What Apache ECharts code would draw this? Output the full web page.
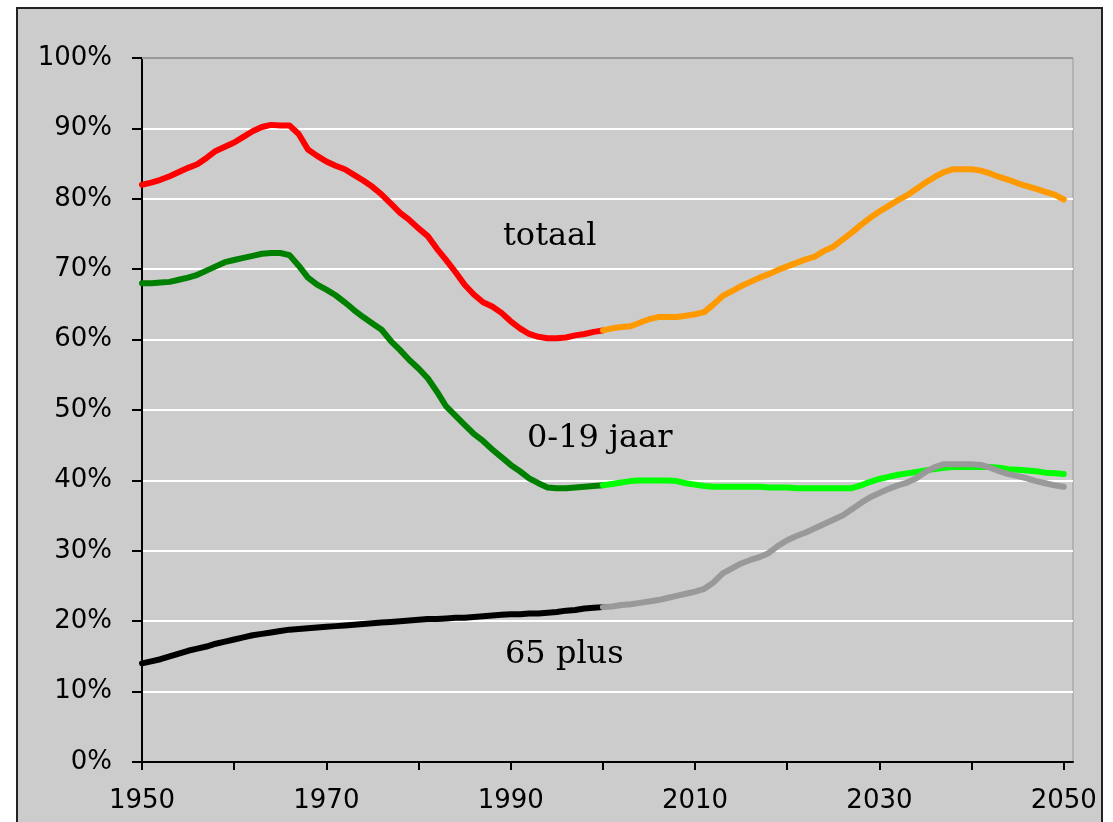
<!DOCTYPE html>
<html>
<head>
<meta charset="utf-8">
<title>Afhankelijkheidsratio 1950-2050</title>
<script src="https://cdn.jsdelivr.net/npm/echarts@6/dist/echarts.min.js"></script>
<style>
  html, body { margin: 0; padding: 0; background: #fff; }
  #chart { width: 1113px; height: 822px; }
</style>
</head>
<body>
<div id="chart"></div>
<script>
// jaren voor waarneming (1950-2000) en prognose (2000-2050)
var yearsPast = [];
for (var y = 1950; y <= 2000; y++) yearsPast.push(y);
var yearsFuture = [];
for (var y2 = 2000; y2 <= 2050; y2++) yearsFuture.push(y2);

// totaal, 1950-2000 (rood)
var totaalPast = [82.0, 82.3, 82.7, 83.2, 83.8, 84.4, 84.9, 85.8, 86.8, 87.4,
  88.0, 88.8, 89.6, 90.2, 90.5, 90.4, 90.4, 89.2, 87.0, 86.1,
  85.3, 84.7, 84.2, 83.4, 82.6, 81.7, 80.6, 79.3, 78.0, 77.0,
  75.8, 74.7, 72.9, 71.3, 69.6, 67.8, 66.4, 65.3, 64.7, 63.8,
  62.6, 61.6, 60.8, 60.4, 60.2, 60.2, 60.3, 60.6, 60.8, 61.1,
  61.3];
// totaal, 2000-2050 (oranje)
var totaalFuture = [61.3, 61.6, 61.8, 61.9, 62.4, 62.9, 63.2, 63.2, 63.2, 63.4,
  63.6, 63.9, 65.0, 66.2, 66.9, 67.6, 68.2, 68.8, 69.3, 69.9,
  70.4, 70.9, 71.4, 71.8, 72.6, 73.2, 74.2, 75.2, 76.3, 77.3,
  78.2, 79.0, 79.8, 80.5, 81.4, 82.3, 83.1, 83.8, 84.2, 84.2,
  84.2, 84.0, 83.6, 83.1, 82.7, 82.2, 81.8, 81.4, 81.0, 80.6,
  79.9];
// 0-19 jaar, 1950-2000 (donkergroen)
var jongPast = [68.0, 68.0, 68.1, 68.2, 68.5, 68.8, 69.2, 69.8, 70.4, 71.0,
  71.3, 71.6, 71.9, 72.2, 72.3, 72.3, 72.0, 70.5, 68.8, 67.8,
  67.1, 66.3, 65.3, 64.2, 63.2, 62.3, 61.4, 59.8, 58.5, 57.1,
  55.9, 54.5, 52.6, 50.5, 49.2, 47.9, 46.6, 45.6, 44.4, 43.3,
  42.2, 41.3, 40.3, 39.6, 39.0, 38.9, 38.9, 39.0, 39.1, 39.2,
  39.3];
// 0-19 jaar, 2000-2050 (lichtgroen)
var jongFuture = [39.3, 39.5, 39.7, 39.9, 40.0, 40.0, 40.0, 40.0, 39.9, 39.6,
  39.4, 39.2, 39.1, 39.1, 39.1, 39.1, 39.1, 39.1, 39.0, 39.0,
  39.0, 38.9, 38.9, 38.9, 38.9, 38.9, 38.9, 38.9, 39.3, 39.8,
  40.2, 40.5, 40.8, 41.0, 41.2, 41.4, 41.6, 41.8, 41.9, 41.9,
  41.9, 41.9, 41.9, 41.8, 41.6, 41.5, 41.4, 41.3, 41.1, 41.0,
  40.9];
// 65 plus, 1950-2000 (zwart)
var oudPast = [14.0, 14.3, 14.6, 15.0, 15.4, 15.8, 16.1, 16.4, 16.8, 17.1,
  17.4, 17.7, 18.0, 18.2, 18.4, 18.6, 18.8, 18.9, 19.0, 19.1,
  19.2, 19.3, 19.4, 19.5, 19.6, 19.7, 19.8, 19.9, 20.0, 20.1,
  20.2, 20.3, 20.3, 20.4, 20.5, 20.5, 20.6, 20.7, 20.8, 20.9,
  21.0, 21.0, 21.1, 21.1, 21.2, 21.3, 21.5, 21.6, 21.8, 21.9,
  22.0];
// 65 plus, 2000-2050 (grijs)
var oudFuture = [22.0, 22.1, 22.3, 22.4, 22.6, 22.8, 23.0, 23.3, 23.6, 23.9,
  24.2, 24.6, 25.5, 26.8, 27.5, 28.2, 28.7, 29.1, 29.7, 30.7,
  31.5, 32.1, 32.6, 33.2, 33.8, 34.4, 35.0, 35.9, 36.8, 37.6,
  38.2, 38.8, 39.3, 39.7, 40.3, 41.2, 41.9, 42.3, 42.3, 42.3,
  42.3, 42.2, 41.8, 41.3, 40.9, 40.6, 40.3, 39.9, 39.6, 39.3,
  39.1];

var xTicks = [1950, 1960, 1970, 1980, 1990, 2000, 2010, 2020, 2030, 2040, 2050];
var xLabels = [1950, 1970, 1990, 2010, 2030, 2050];

function pairs(years, vals) {
  return years.map(function (yr, i) { return [yr, vals[i]]; });
}

function lineSeries(name, years, vals, color) {
  return {
    type: 'line',
    name: name,
    data: pairs(years, vals),
    showSymbol: false,
    symbol: 'none',
    smooth: false,
    lineStyle: { color: color, width: 6, cap: 'round', join: 'round' },
    emphasis: { disabled: true },
    silent: true
  };
}

var chart = echarts.init(document.getElementById('chart'));

var option = {
  backgroundColor: '#cccccc',
  animation: false,
  grid: {
    left: 142,
    top: 58,
    width: 931,
    height: 704,
    show: true,
    borderColor: '#999999',
    borderWidth: 1,
    backgroundColor: 'transparent'
  },
  xAxis: {
    type: 'value',
    min: 1950,
    max: 2051,
    interval: 10,
    axisLine: { show: true, onZero: false, lineStyle: { color: '#000', width: 2 } },
    axisTick: { show: true, length: 8, customValues: xTicks, lineStyle: { color: '#000', width: 2 } },
    axisLabel: {
      customValues: xLabels,
      formatter: function (v) { return String(v); },
      margin: 26,
      color: '#000',
      fontFamily: 'DejaVu Sans',
      fontSize: 26
    },
    splitLine: { show: false }
  },
  yAxis: {
    type: 'value',
    min: 0,
    max: 100,
    interval: 10,
    axisLine: { show: true, lineStyle: { color: '#000', width: 2 } },
    axisTick: { show: true, length: 10, lineStyle: { color: '#000', width: 2 } },
    axisLabel: {
      formatter: '{value}%',
      margin: 30,
      color: '#000',
      fontFamily: 'DejaVu Sans',
      fontSize: 26
    },
    splitLine: { show: true, lineStyle: { color: '#ffffff', width: 2 } }
  },
  series: [
    lineSeries('totaal', yearsPast, totaalPast, '#ff0000'),
    lineSeries('totaal prognose', yearsFuture, totaalFuture, '#ff9900'),
    lineSeries('0-19 jaar', yearsPast, jongPast, '#008000'),
    lineSeries('0-19 jaar prognose', yearsFuture, jongFuture, '#00ff00'),
    lineSeries('65 plus', yearsPast, oudPast, '#000000'),
    lineSeries('65 plus prognose', yearsFuture, oudFuture, '#999999')
  ],
  graphic: [
    // witte rand rond het kader
    { type: 'rect', silent: true, z: 90, shape: { x: 0, y: 0, width: 1113, height: 7 }, style: { fill: '#fff' } },
    { type: 'rect', silent: true, z: 90, shape: { x: 0, y: 0, width: 16, height: 822 }, style: { fill: '#fff' } },
    { type: 'rect', silent: true, z: 90, shape: { x: 1103, y: 0, width: 10, height: 822 }, style: { fill: '#fff' } },
    { type: 'rect', silent: true, z: 95, shape: { x: 17, y: 8, width: 1085, height: 830 },
      style: { fill: 'none', stroke: '#222', lineWidth: 2 } },
    // bovenrand van het plotvlak
    { type: 'line', silent: true, z: 40, shape: { x1: 142, y1: 58, x2: 1073, y2: 58 },
      style: { stroke: '#999999', lineWidth: 2 } },
    // lijnlabels
    { type: 'text', silent: true, z: 50, x: 503, y: 237,
      style: { text: 'totaal', fill: '#000', font: '32px "DejaVu Serif"', textVerticalAlign: 'middle' } },
    { type: 'text', silent: true, z: 50, x: 527, y: 439,
      style: { text: '0-19 jaar', fill: '#000', font: '32px "DejaVu Serif"', textVerticalAlign: 'middle' } },
    { type: 'text', silent: true, z: 50, x: 505, y: 655,
      style: { text: '65 plus', fill: '#000', font: '32px "DejaVu Serif"', textVerticalAlign: 'middle' } }
  ]
};

chart.setOption(option);
</script>
</body>
</html>
